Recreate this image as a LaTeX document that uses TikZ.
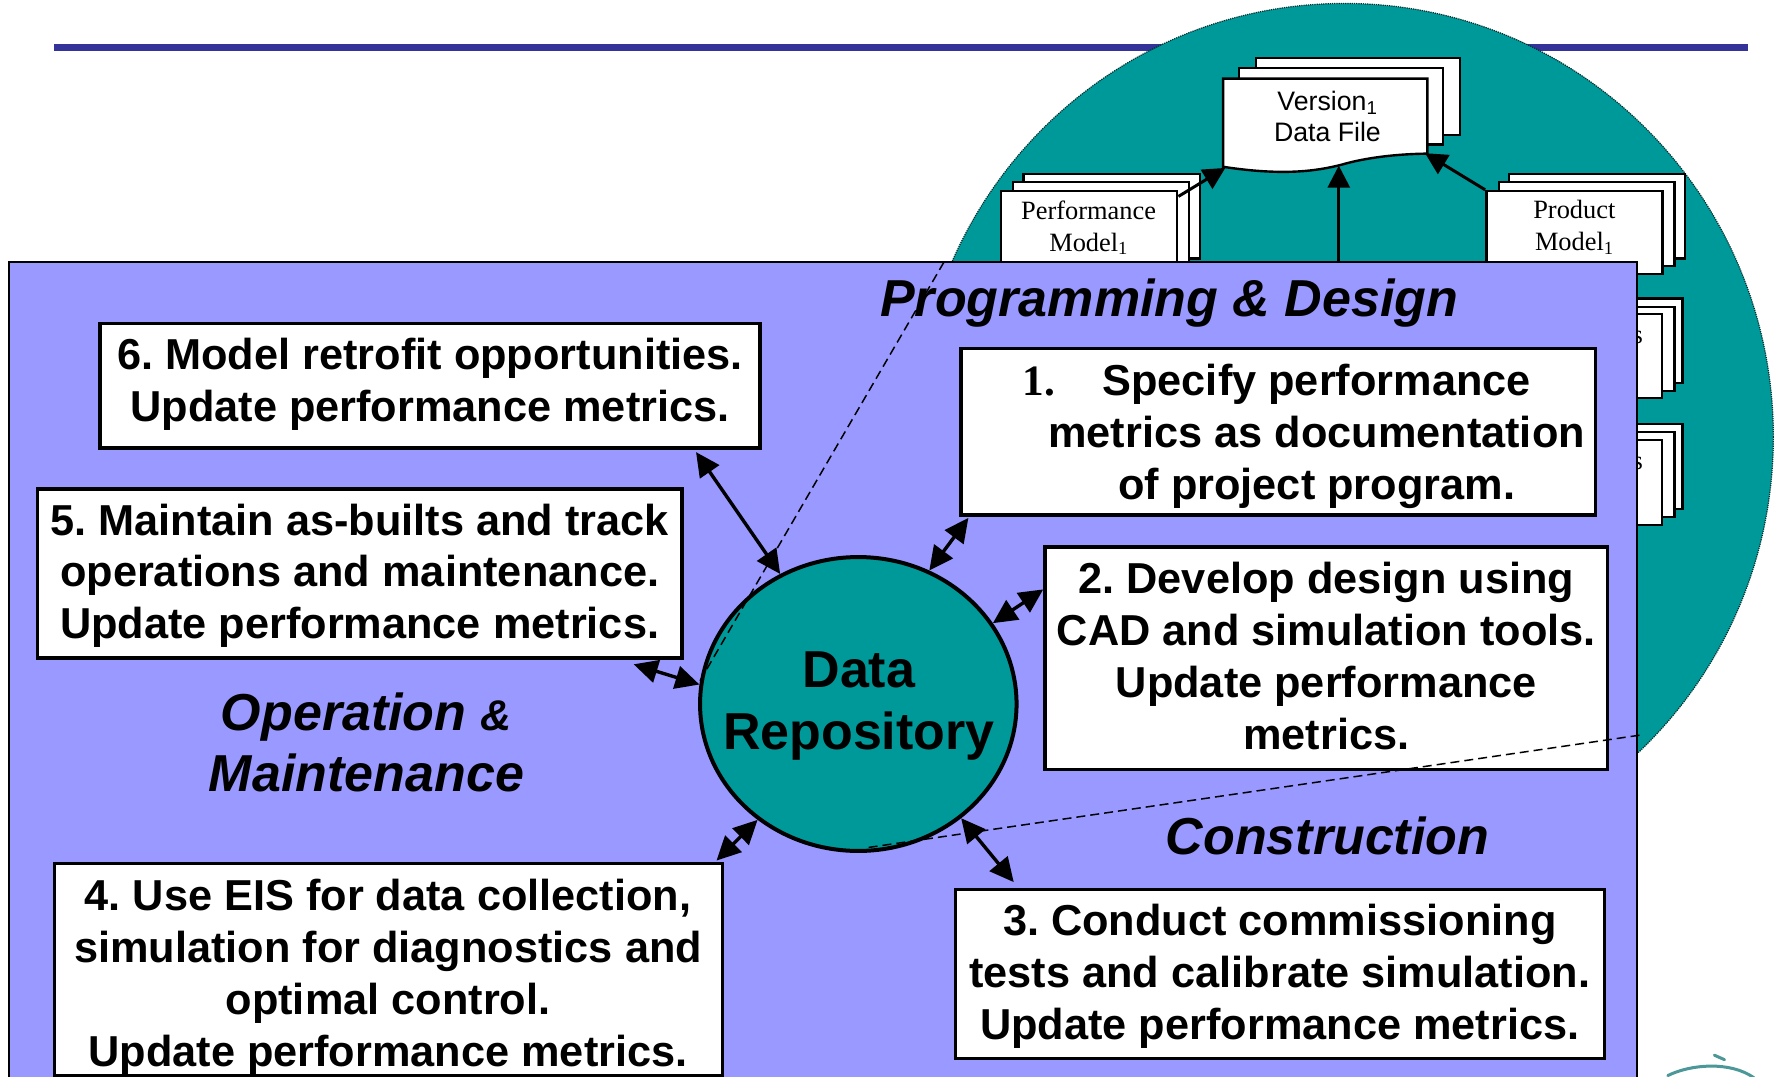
\documentclass[tikz,border=0pt]{standalone}
\usepackage{fontspec}
\setmainfont{Liberation Sans}
\newfontfamily\timesf{Liberation Serif}
\usetikzlibrary{arrows.meta,shapes.geometric,calc}
\definecolor{tealc}{HTML}{009999}
\definecolor{purplec}{HTML}{9999FF}
\definecolor{bluec}{HTML}{333399}
\tikzset{
  sheet/.style={draw=black,line width=2.4pt,fill=white},
  boxn/.style={rectangle,draw=black,line width=3.4pt,fill=white,inner sep=0pt},
  txt/.style={align=center,inner sep=0pt,font=\frenchspacing\fontsize{43.3}{51.9}\selectfont\bfseries},
  head/.style={align=center,inner sep=0pt,font=\fontsize{52}{61}\selectfont\bfseries\itshape},
  doc/.style={align=center,inner sep=0pt,font=\timesf\fontsize{26.4}{32}\selectfont},
  ver/.style={align=center,inner sep=0pt,font=\fontsize{26.7}{31}\selectfont},
  darr/.style={line width=3.4pt,{Triangle[length=24pt,width=23pt]}-{Triangle[length=24pt,width=23pt]}},
  uarr/.style={line width=3pt,-{Triangle[length=22pt,width=22pt]}},
  dashln/.style={draw=black,line width=1.5pt,dash pattern=on 9pt off 5pt},
  logoln/.style={color=black!30!tealc!70!white,line cap=round},
}
\begin{document}
\begin{tikzpicture}[x=1.1346pt,y=-1.1346pt]
\useasboundingbox (0,0) rectangle (1568,949.2);
\clip (0,0) rectangle (1568,949.2);
\fill[white] (0,0) rectangle (1568,949.2);
% title rule
\fill[bluec] (48,39) rectangle (1541,45);
% zoomed view
\node[ellipse,draw=black!70!tealc,densely dotted,line width=1.2pt,fill=tealc,inner sep=0pt,minimum width=857.8pt,minimum height=866.8pt] (zoomv) at (1185,385) {};
% Version stack
\draw[sheet] (1107,51) rectangle (1287,119);
\draw[sheet] (1092,59.8) rectangle (1272,127.5);
\draw[sheet] (1078,69.3) -- (1258,69.3) -- (1258,135.4) .. controls (1215,136) and (1190,143) .. (1183,145) .. controls (1160,151) and (1130,155) .. (1078,147) -- cycle;
\node[ver] (vert) at (1170,102.5) {Version\textsubscript{1}\\Data File};
\coordinate (vleft) at (1080,148);
\coordinate (vmid) at (1180,146);
\coordinate (vright) at (1256,135);
\coordinate (hiddenfoot) at (1180,240);
% Performance stack
\draw[sheet] (902,153.6) rectangle (1057.6,228);
\draw[sheet] (893,160.6) rectangle (1048,235);
\node[rectangle,sheet,inner sep=0pt,minimum width=176.5pt,minimum height=83.5pt] (perf) at (959.8,205) {};
\node[doc] (perft) at (959.5,200.6) {Performance\\Model\textsubscript{1}};
% Product stack
\draw[sheet] (1330,153.6) rectangle (1485,228);
\draw[sheet] (1321,160.6) rectangle (1476,234.5);
\node[rectangle,sheet,inner sep=0pt,minimum width=176pt,minimum height=83.2pt] (prod) at (1387.6,205) {};
\node[doc] (prodt) at (1387.6,200.6) {Product\\Model\textsubscript{1}};
% Further stacks behind the panel
\draw[sheet] (1330,263) rectangle (1483,337.4);
\draw[sheet] (1321,270.7) rectangle (1476,344.7);
\draw[sheet] (1310,277) rectangle (1465,351);
\node[doc] (s2) at (1443.5,297) {s};
\draw[sheet] (1330,373.6) rectangle (1483,448.6);
\draw[sheet] (1321,381) rectangle (1476,455.8);
\draw[sheet] (1310,388) rectangle (1465,462.8);
\node[doc] (s3) at (1443.5,408) {s};
% arrows to version file
\draw[uarr] ($(perf.north east)+(0,6)$) -- (vleft);
\draw[uarr] (hiddenfoot) -- (vmid);
\draw[uarr] (prod.north west) -- (vright);
% panel
\draw[fill=purplec,draw=black,line width=1.8pt] (8,231) rectangle (1443,960);
% logo fragment
\draw[logoln,line width=3pt] (1470,948) .. controls (1490,938) and (1525,935) .. (1546,950);
\draw[logoln,line width=3pt] (1511,930) -- (1520,934);
% data repository
\node[ellipse,draw=black,line width=4pt,fill=tealc,inner sep=0pt,minimum width=316.5pt,minimum height=293.9pt] (repo) at (756.5,620.5) {};
\node[align=center,inner sep=0pt,font=\fontsize{52}{62}\selectfont\bfseries] (repot) at (757,622) {Data\\Repository};
% boxes
\node[boxn,minimum width=660.3pt,minimum height=124.8pt] (box6) at (379,340) {};
\node[txt] (t6) at (379,339) {6. Model retrofit opportunities.\\Update performance metrics.};
\node[boxn,minimum width=644.5pt,minimum height=169.1pt] (box5) at (317,505.5) {};
\node[txt] (t5) at (317,507.5) {5. Maintain as-builts and track\\operations and maintenance.\\Update performance metrics.};
\node[boxn,minimum width=634.2pt,minimum height=166.8pt] (box1) at (1126.5,380.5) {};
\node[txt] (t1) at (1160.5,384.5) {\llap{\timesf 1.\hspace{47.6pt}}Specify performance\\metrics as documentation\\of project program.};
\node[boxn,minimum width=562.8pt,minimum height=222.4pt] (box2) at (1169,580) {};
\node[txt] (t2) at (1169,578) {2. Develop design using\\CAD and simulation tools.\\Update performance\\metrics.};
\node[boxn,minimum width=649pt,minimum height=169.1pt] (box3) at (1128,858.5) {};
\node[txt] (t3) at (1128,860.5) {3. Conduct commissioning\\tests and calibrate simulation.\\Update performance metrics.};
\node[boxn,minimum width=668.3pt,minimum height=212.2pt] (box4) at (342.5,854.5) {};
\node[txt] (t4) at (342,861.5) {4. Use EIS for data collection,\\simulation for diagnostics and\\optimal control.\\Update performance metrics.};
% headings
\node[head] (hpd) at (1030.5,267) {Programming \& Design};
\node[head] (hc) at (1170,737) {Construction};
\node[head] (hom) at (323,654) {Operation {\fontsize{43}{61}\selectfont \&}\\Maintenance};
% double arrows
\draw[darr] ($(box6.south east)+(-58,2)$) -- (repo.121);
\draw[darr] ($(box5.south east)+(-44,4)$) -- (repo.173);
\draw[darr] ($(box1.south west)+(8,1)$) -- (repo.62);
\draw[darr] ($(box2.north west)+(0,39)$) -- (repo.31);
\draw[darr] ($(box3.north west)+(53,-5)$) -- (repo.-48);
\draw[darr] ($(box4.north east)+(-7,-1)$) -- (repo.229);
% dashed lines of the zoom
\coordinate (dla) at (832,231);
\coordinate (dlb) at (617,600);
\coordinate (dra) at (1445,648);
\coordinate (drb) at (765,747);
\draw[dashln] (dla) -- (dlb);
\draw[dashln] (dra) -- (drb);
\end{tikzpicture}
\end{document}
